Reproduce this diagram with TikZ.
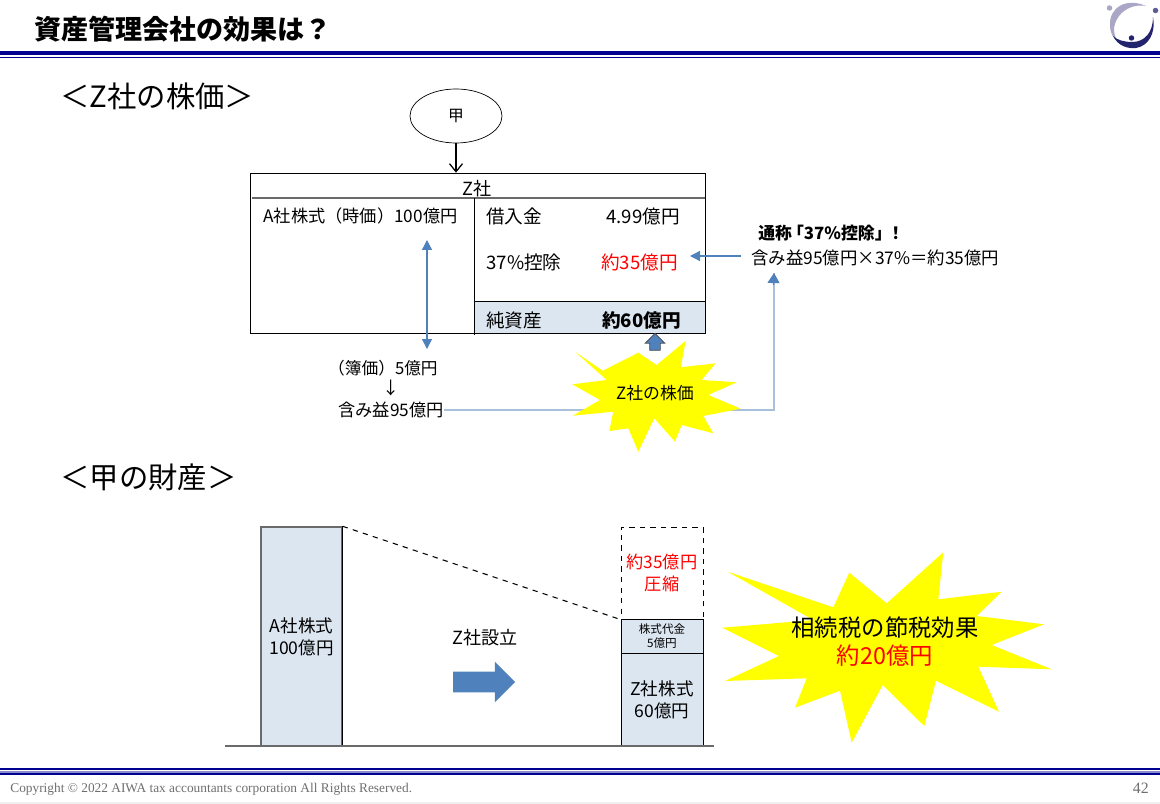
\documentclass[tikz,border=0pt]{standalone}
\usepackage{fontspec}
\setmainfont{Noto Sans CJK JP}
\newfontfamily\footfont{Liberation Serif}
\usetikzlibrary{arrows.meta,shapes.geometric,shapes.arrows}
\definecolor{railblue}{HTML}{000090}
\definecolor{barfill}{HTML}{DCE6F1}
\definecolor{arrowblue}{HTML}{4F81BD}
\definecolor{linkblue}{HTML}{A9C0DC}
\definecolor{edgegray}{HTML}{6A6A6A}
\definecolor{burst}{HTML}{FFFF00}
\definecolor{logolight}{HTML}{A9A6C6}
\definecolor{logodark}{HTML}{24246E}
\definecolor{footgray}{HTML}{6E6E6E}
\tikzset{
  txt/.style={inner sep=0pt,font=\fontsize{9.8}{12.5}\selectfont,align=center},
  tabletxt/.style={inner sep=0pt,font=\fontsize{10.6}{13}\selectfont},
  head/.style={inner sep=0pt,anchor=west,font=\fontsize{16.7}{20}\selectfont},
  bar/.style={draw,inner sep=0pt,minimum width=1.64cm,align=center,font=\fontsize{10}{12.5}\selectfont},
  bluearrow/.style={draw=arrowblue,line width=0.7pt,{Triangle[width=2mm,length=2mm]}-{Triangle[width=2mm,length=2mm]}},
}
\begin{document}
\begin{tikzpicture}[x=0.02cm,y=-0.02cm,>=stealth]
    \useasboundingbox (0,0) rectangle (1160,804);
    % rails
    \fill[railblue] (0,51) rectangle (1160,55.5);
    \fill[railblue] (0,56.8) rectangle (1160,58);
    \fill[railblue] (0,768) rectangle (1160,770);
    \fill[railblue!45] (0,770.5) rectangle (1160,772.5);
    \fill[railblue] (0,773) rectangle (1160,775);
    \draw[black!6,line width=0.6pt] (0,803) -- (1160,803);
    % logo
    \fill[logolight] (1146,6) .. controls (1126,-3) and (1109,8) .. (1110,25) .. controls (1110,33) and (1113,38) .. (1118,42) .. controls (1113,34) and (1112,26) .. (1119,16) .. controls (1125,8) and (1136,4) .. (1146,6);
    \fill[logodark] (1113,36) .. controls (1118,46) and (1128,49) .. (1136,48) .. controls (1148,46) and (1156,34) .. (1153,17) .. controls (1153,32) and (1145,42) .. (1132,42) .. controls (1124,42) and (1117,40) .. (1113,36);
    \fill[logolight] (1109.5,8) circle[radius=0.055cm];
    \fill[logodark!75] (1155.5,10.5) circle[radius=0.055cm];
    \fill[logodark] (1131.5,38) circle[radius=0.055cm];

    \node[inner sep=0pt,anchor=west,font=\fontsize{15.4}{18}\selectfont\bfseries] (title) at (34,29) {資産管理会社の効果は？};
    \node[head] (headz) at (60,96) {＜Z社の株価＞};
    \node[head] (headk) at (60,477) {＜甲の財産＞};

    % upper part
    \node[draw,ellipse,inner sep=0pt,minimum width=1.84cm,minimum height=1.08cm,font=\fontsize{9}{11}\selectfont] (kou) at (456,116) {甲};
    \node[draw,inner sep=0pt,minimum width=9.1cm,minimum height=3.2cm] (zbox) at (477.5,253) {};
    \draw[-{Straight Barb[length=1.6mm,width=2.6mm]},line width=0.7pt] (kou) -- (zbox.north -| kou);
    \draw[edgegray,line width=0.8pt] (252,198) -- (705,198);
    \node[txt,font=\fontsize{10.3}{12.5}\selectfont] (zname) at (477,189) {Z社};
    \fill[barfill] (475,301) rectangle (705,333);
    \draw (474.5,198) -- (474.5,335);
    \draw (474.5,301) -- (705,301);
    \draw (474.5,333) -- (705,333);
    \draw (705,301) -- (705,333);

    \node[txt,anchor=west] (astock) at (263,216) {A社株式（時価）100億円};
    \node[tabletxt,anchor=west] (loan) at (486,216) {借入金};
    \node[tabletxt,anchor=east] (loanval) at (680,216) {4.99億円};
    \node[tabletxt,anchor=west] (ded) at (486,262) {37\%控除};
    \node[tabletxt,anchor=east,text=red] (dedval) at (678,262) {約35億円};
    \node[tabletxt,anchor=west] (net) at (486,320) {純資産};
    \node[tabletxt,anchor=east,font=\fontsize{10.6}{13}\selectfont\bfseries] (netval) at (681,320) {約60億円};

    \node[txt,anchor=east,font=\fontsize{9.5}{12.5}\selectfont] (book) at (438,368) {（簿価）5億円};
    \node[txt] (bookdown) at (391,388) {↓};
    \node[txt,anchor=west] (gain) at (338,410) {含み益95億円};
    \node[txt,anchor=west,font=\fontsize{9.6}{12.5}\selectfont\bfseries] (nick) at (758,233) {通称\kern-0.3em「37\%控除」\kern-0.25em！};
    \node[txt,anchor=west,font=\fontsize{9.9}{12.5}\selectfont] (calc) at (751,258) {含み益95億円×37\%＝約35億円};

    \coordinate (duptop) at (427,240);
    \coordinate (dupbot) at (427,349);
    \coordinate (calcin) at (774,273);
    \coordinate (dedin) at (690,256);
    \coordinate (calcout) at (741,256);
    \draw[bluearrow] (duptop) -- (dupbot);
    \draw[linkblue,line width=0.8pt] (gain.east) -- (gain.east -| calcin) -- (calcin);
    \draw[draw=arrowblue,-{Triangle[width=2.4mm,length=2mm]},line width=0.7pt] (773.5,285) -- (calcin);
    \draw[draw=arrowblue,-{Triangle[width=2mm,length=2mm]},line width=0.7pt] (calcout) -- (dedin);

    \node[single arrow,draw=black!70,fill=arrowblue,inner xsep=0pt,inner ysep=0.1cm,rotate=90,minimum height=0.34cm,single arrow head extend=0.09cm,single arrow head indent=0cm] (uparrow) at (655,344.5) {};

    % star of stock price
    \fill[burst] (575.3,352) -- (602.7,370.7) -- (638.3,352.7) -- (656.7,365) -- (685.7,340.7) -- (680.7,367.3) -- (715.7,363.3) -- (701.7,380) -- (736.7,382.3) -- (708.3,395) -- (740.7,408.7) -- (703.3,416) -- (713.3,433.3) -- (681.7,425) -- (675,441.7) -- (654.3,418.3) -- (638.3,451.7) -- (628.3,428.3) -- (609.3,431) -- (613.3,411.7) -- (572.7,415.7) -- (600,400) -- (572.3,384.3) -- (606.7,380) -- cycle;
    \node[inner sep=0pt,font=\fontsize{9.6}{11}\selectfont] (starz) at (655,393) {Z社の株価};

    % lower part
    \node[bar,draw=edgegray,line width=0.8pt,fill=barfill,minimum width=1.62cm,minimum height=4.38cm] (abar) at (301.5,636.5) {A社株式\\100億円};
    \node[bar,dashed,minimum height=1.84cm,text=red,font=\fontsize{9.8}{12.5}\selectfont] (cutbar) at (662,573.2) {約35億円\\圧縮};
    \node[bar,fill=barfill,minimum height=0.68cm,font=\fontsize{6.6}{8}\selectfont] (paybar) at (662,636) {株式代金\\5億円};
    \node[bar,fill=barfill,minimum height=1.86cm] (zbar) at (662,699.5) {Z社株式\\60億円};
    \draw (abar.north east) -- (abar.south east);
    \draw[dashed,line width=0.6pt] (abar.north east) -- (cutbar.south west);
    \coordinate (groundl) at (225,746);
    \coordinate (groundr) at (714,746);
    \draw[edgegray,line width=0.9pt] (groundl) -- (groundr);
    \node[txt,font=\fontsize{10.3}{12.5}\selectfont] (setup) at (485,638) {Z社設立};
    \node[single arrow,fill=arrowblue,inner xsep=0pt,inner ysep=0.2cm,minimum height=1.24cm,single arrow head extend=0.2cm,single arrow head indent=0cm] (bigarrow) at (479,682) {};

    % star of tax effect
    \fill[burst] (727.7,571.7) -- (833.3,607.3) -- (849.3,572.7) -- (886.7,603.3) -- (943.3,552.3) -- (938.3,599.3) -- (1001.7,591.7) -- (976.7,616) -- (1044,624.3) -- (991.7,645) -- (1051.7,669.3) -- (978.3,666.7) -- (999,711.7) -- (936,680.7) -- (924.3,726) -- (882.7,685) -- (851.7,742.7) -- (840,690.7) -- (795,707.7) -- (806.7,678.3) -- (725,681) -- (779,656) -- (722.3,627.7) -- (813.3,620) -- cycle;
    \node[inner sep=0pt,align=center,font=\fontsize{13.3}{16}\selectfont] (startax) at (885,642) {相続税の節税効果\\\textcolor{red}{約20億円}};

    % footer
    \node[inner sep=0pt,anchor=west,text=footgray,font=\footfont\fontsize{7.6}{9}\selectfont] (copy) at (10,789.5) {Copyright © 2022 AIWA tax accountants corporation All Rights Reserved.};
    \node[inner sep=0pt,anchor=east,text=footgray,font=\footfont\fontsize{9}{11}\selectfont] (pagenum) at (1149,788) {42};
\end{tikzpicture}
\end{document}
